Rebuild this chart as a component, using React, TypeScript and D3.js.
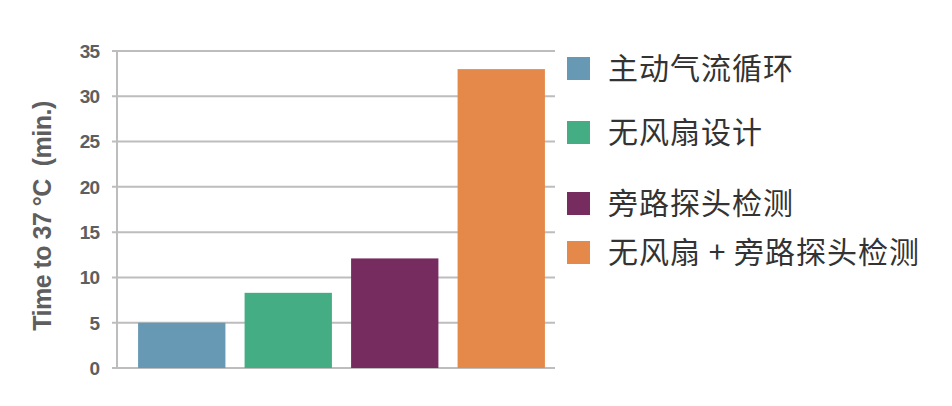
import React from 'react';
import * as d3 from 'd3';

const categories = ['主动气流循环', '无风扇设计', '旁路探头检测', '无风扇 + 旁路探头检测'];
const values = [5, 8.3, 12.1, 33];
const colors = ['#6899b4', '#45ad84', '#772c60', '#e5894a'];
const yTicks = [0, 5, 10, 15, 20, 25, 30, 35];
const legendRows = [68, 132, 203, 252];

const App: React.FC = () => {
  const width = 952;
  const height = 406;

  const y = d3.scaleLinear().domain([0, 35]).range([368, 51]);
  const x = d3.scaleBand<string>()
    .domain(categories)
    .range([128.5, 554.5])
    .paddingInner(0.18)
    .paddingOuter(0.09);

  const axisX = 117;
  const gridEnd = 555;

  return (
    <svg width={width} height={height} style={{ position: 'absolute', left: 0, top: 0, background: '#fff' }}>
      {/* grid lines + ticks */}
      {yTicks.map(t => (
        <g key={t}>
          <line x1={axisX - 5} x2={gridEnd} y1={y(t)} y2={y(t)} stroke="#bdbdbd" strokeWidth={2} />
          <text
            x={99}
            y={y(t)}
            dy="0.36em"
            textAnchor="end"
            fontFamily="'Liberation Sans', Arial, sans-serif"
            fontWeight="bold"
            fontSize={19}
            letterSpacing={-1}
            fill="#5e5e5e"
          >
            {t}
          </text>
        </g>
      ))}
      <line x1={axisX} x2={axisX} y1={y(35)} y2={y(0)} stroke="#bdbdbd" strokeWidth={2} />

      {/* bars */}
      {categories.map((c, i) => (
        <rect
          key={c}
          x={x(c)}
          y={y(values[i])}
          width={x.bandwidth()}
          height={y(0) - y(values[i])}
          fill={colors[i]}
        />
      ))}

      {/* y title */}
      <text
        transform={`translate(51, 216) rotate(-90)`}
        textAnchor="middle"
        fontFamily="'Liberation Sans', Arial, sans-serif"
        fontWeight="bold"
        fontSize={25}
        letterSpacing={-0.5}
        fill="#5e5e5e"
        xmlSpace="preserve"
      >
        {'Time to 37 °C  (min.)'}
      </text>

      {/* legend */}
      {categories.map((c, i) => (
        <g key={c} transform={`translate(567, ${legendRows[i]})`}>
          <rect x={0} y={-11} width={23} height={23} fill={colors[i]} />
          <text
            x={41}
            y={0}
            dy="0.36em"
            fontFamily="'Noto Sans CJK SC', sans-serif"
            fontSize={30}
            letterSpacing={1}
            fill="#333"
            xmlSpace="preserve"
          >
            {c}
          </text>
        </g>
      ))}
    </svg>
  );
};

export default App;
